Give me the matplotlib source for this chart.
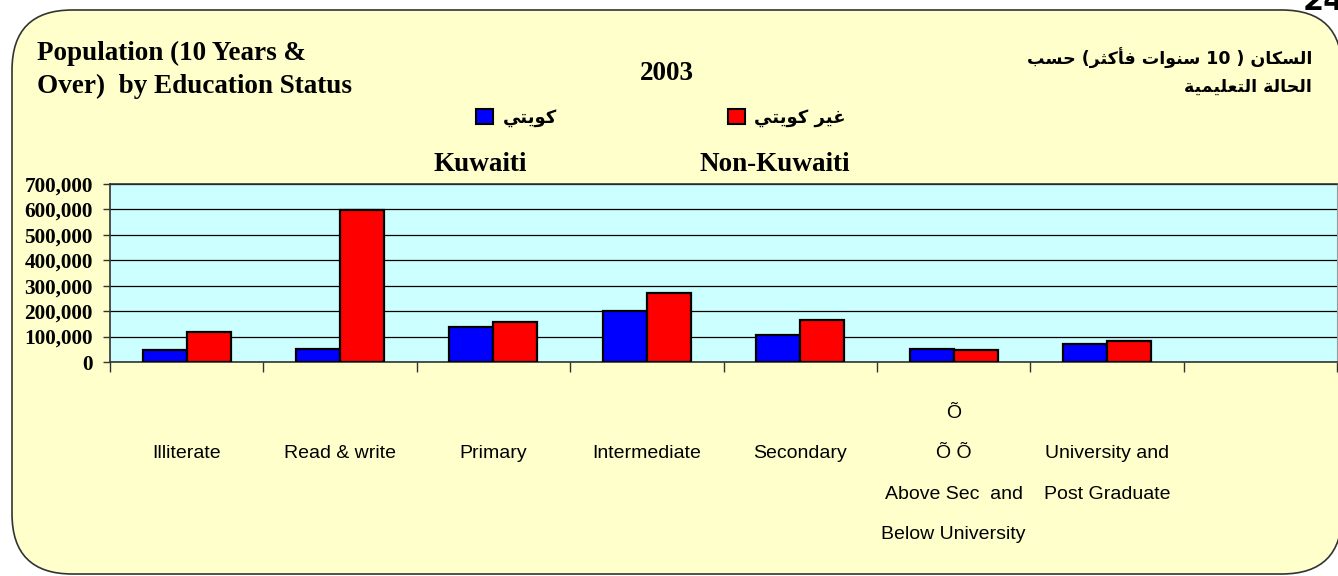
import re
import matplotlib
matplotlib.use('Agg')  # no display
import matplotlib.pyplot as plt
import matplotlib.patches as mpatches
from matplotlib.ticker import FixedLocator, FuncFormatter

# data (population 10 years & over, 2003)
categories = ['\nIlliterate', '\nRead & write', '\nPrimary', '\nIntermediate', '\nSecondary',
              'Õ\nÕ Õ\nAbove Sec  and\nBelow University', '\nUniversity and\nPost Graduate', '']
kuwaiti = [46000, 50000, 139000, 199000, 107000, 50000, 72000, float('nan')]
non_kuwaiti = [119000, 596000, 156000, 270000, 164000, 46000, 81000, float('nan')]
yticks = [0, 100000, 200000, 300000, 400000, 500000, 600000, 700000]

title_en = 'Population (10 Years &\nOver)  by Education Status'
title_ar = 'السكان ( 10 سنوات فأكثر) حسب\nالحالة التعليمية'
year = '2003'
label_kw_ar = 'كويتي'
label_nk_ar = 'غير كويتي'
label_kw_en = 'Kuwaiti'
label_nk_en = 'Non-Kuwaiti'

# minimal arabic shaping (matplotlib has no shaping / bidi)
FORMS = {
    'ا': ('\ufe8d', '\ufe8e'), 'أ': ('\ufe83', '\ufe84'), 'ة': ('\ufe93', '\ufe94'),
    'ر': ('\ufead', '\ufeae'), 'و': ('\ufeed', '\ufeee'),
    'ب': ('\ufe8f', '\ufe90', '\ufe91', '\ufe92'), 'ت': ('\ufe95', '\ufe96', '\ufe97', '\ufe98'),
    'ث': ('\ufe99', '\ufe9a', '\ufe9b', '\ufe9c'), 'ح': ('\ufea1', '\ufea2', '\ufea3', '\ufea4'),
    'س': ('\ufeb1', '\ufeb2', '\ufeb3', '\ufeb4'), 'ع': ('\ufec9', '\ufeca', '\ufecb', '\ufecc'),
    'غ': ('\ufecd', '\ufece', '\ufecf', '\ufed0'), 'ف': ('\ufed1', '\ufed2', '\ufed3', '\ufed4'),
    'ك': ('\ufed9', '\ufeda', '\ufedb', '\ufedc'), 'ل': ('\ufedd', '\ufede', '\ufedf', '\ufee0'),
    'م': ('\ufee1', '\ufee2', '\ufee3', '\ufee4'), 'ن': ('\ufee5', '\ufee6', '\ufee7', '\ufee8'),
    'ي': ('\ufef1', '\ufef2', '\ufef3', '\ufef4'),
}


def ar_line(text):
    out = []
    for i, ch in enumerate(text):
        if ch not in FORMS:
            out.append(ch)
            continue
        prev = text[i - 1] if i > 0 else ''
        nxt = text[i + 1] if i + 1 < len(text) else ''
        jp = prev in FORMS and len(FORMS[prev]) == 4
        jn = nxt in FORMS and len(FORMS[ch]) == 4
        f = FORMS[ch]
        if jp and jn:
            out.append(f[3])
        elif jp:
            out.append(f[1])
        elif jn:
            out.append(f[2])
        else:
            out.append(f[0])
    s = ''.join(out)[::-1]
    s = re.sub(r'[0-9]+', lambda m: m.group(0)[::-1], s)
    return s.translate(str.maketrans('()', ')('))


def ar(text):
    return '\n'.join(ar_line(t) for t in text.split('\n'))


W, H = 1338, 576
fig = plt.figure(figsize=(W / 100, H / 100), dpi=100)
fig.patch.set_facecolor('white')

# rounded yellow background box
bg = mpatches.FancyBboxPatch((12 / W, 2 / H), (1342 - 12) / W, (566 - 2) / H,
                             boxstyle=mpatches.BoxStyle('Round', pad=0, rounding_size=0.045),
                             transform=fig.transFigure, facecolor='#FFFFCC', edgecolor='#333333',
                             linewidth=1.2, mutation_aspect=W / H, zorder=-5)
fig.patches.append(bg)

fig.text(1303 / W, 1 - 10 / H, '24', fontsize=22, fontweight='bold', family='DejaVu Sans',
         ha='left', va='baseline')

ax = fig.add_axes([110 / W, 1 - 362 / H, (1337 - 110) / W, (362 - 184) / H])
ax.set_facecolor('#CCFFFF')

x = list(range(len(categories)))
bw = 0.287
ax.bar([i - bw / 2 for i in x], kuwaiti, width=bw, color='#0000FF', edgecolor='black', linewidth=1.6, zorder=3)
ax.bar([i + bw / 2 for i in x], non_kuwaiti, width=bw, color='#FF0000', edgecolor='black', linewidth=1.6, zorder=3)

ax.set_xlim(-0.5, len(categories) - 0.5)
ax.set_ylim(0, 700000)
ax.set_yticks(yticks)
ax.yaxis.set_major_formatter(FuncFormatter(lambda v, p: f'{int(v):,}'))
ax.grid(axis='y', color='black', linewidth=0.9, zorder=1)
ax.set_axisbelow(True)

ax.set_xticks(x)
ax.set_xticklabels(categories, family=['Liberation Sans Narrow', 'Liberation Sans'], fontsize=14,
                   linespacing=2.8, va='top')
ax.xaxis.set_minor_locator(FixedLocator([i - 0.5 for i in range(len(categories) + 1)]))
ax.tick_params(axis='x', which='major', length=0, pad=31)
ax.tick_params(axis='x', which='minor', length=7, width=1, color='#333333', direction='out')
ax.tick_params(axis='y', length=5, width=1, color='#333333', pad=7.5)
for lab in ax.get_yticklabels():
    lab.set_family('Liberation Serif')
    lab.set_fontweight('bold')
    lab.set_fontsize(15.3)

for s in ['left', 'bottom', 'top']:
    ax.spines[s].set_color('#333333')
    ax.spines[s].set_linewidth(1.2)
ax.spines['right'].set_color('#999999')

# titles
fig.text(37 / W, 1 - 70 / H, title_en, fontsize=19.5, fontweight='bold', family='Liberation Serif',
         ha='left', va='center', linespacing=1.38)
fig.text(1312 / W, 1 - 72 / H, ar(title_ar), fontsize=12.5, fontweight='bold', family='DejaVu Sans',
         ha='right', va='center', linespacing=1.65)
fig.text(667 / W, 1 - 73 / H, year, fontsize=19.5, fontweight='bold', family='Liberation Serif',
         ha='center', va='center')

# legend: arabic labels with colour squares, english below
handles = [mpatches.Patch(facecolor='#0000FF', edgecolor='black', linewidth=1.5, label=ar(label_kw_ar)),
           mpatches.Patch(facecolor='#FF0000', edgecolor='black', linewidth=1.5, label=ar(label_nk_ar))]
leg = fig.legend(handles=handles, ncols=2, loc='center left', bbox_to_anchor=(460 / W, 1 - 118 / H),
                 frameon=False, prop={'family': 'DejaVu Sans', 'weight': 'bold', 'size': 13},
                 handlelength=0.95, handleheight=0.95, handletextpad=0.5, columnspacing=9.5)

fig.text(480 / W, 1 - 165 / H, label_kw_en, fontsize=19.5, fontweight='bold', family='Liberation Serif',
         ha='center', va='center')
fig.text(775 / W, 1 - 165 / H, label_nk_en, fontsize=19.5, fontweight='bold', family='Liberation Serif',
         ha='center', va='center')

plt.savefig('out.png', dpi=100)
